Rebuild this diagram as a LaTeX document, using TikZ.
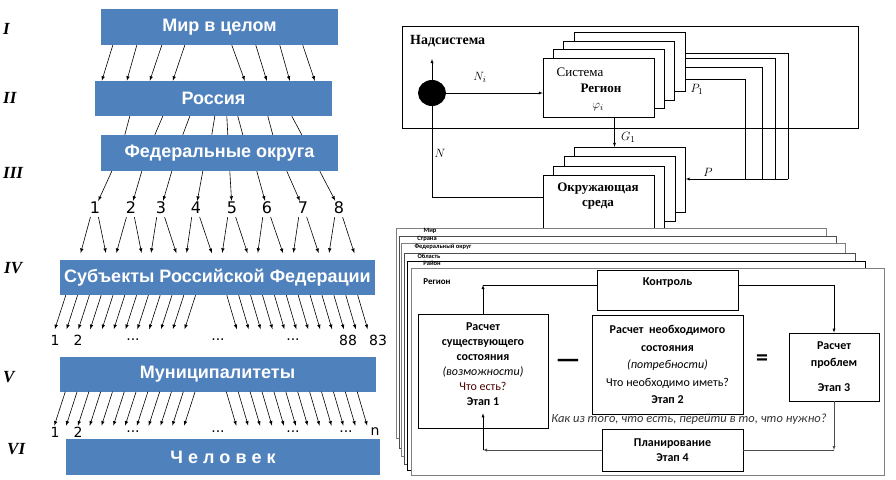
\documentclass[tikz,border=0pt]{standalone}
\usepackage{fontspec}
\usepackage{amsmath}
\usetikzlibrary{arrows,shapes.geometric}
\newfontfamily\arialf{Liberation Sans}
\newfontfamily\timesf{Liberation Serif}
\newfontfamily\calif{Carlito}
\newfontfamily\verdf{DejaVu Sans}
\definecolor{barblue}{HTML}{4F81BD}
\begin{document}
\begin{tikzpicture}[x=1pt, y=-1pt,
    bar/.style = {fill=barblue, text=white, inner sep=0, font=\arialf\bfseries\fontsize{18}{20}\selectfont},
    num/.style = {inner sep=1pt, font=\verdf\fontsize{16}{16}\selectfont},
    rownum/.style = {inner sep=1pt, font=\verdf\fontsize{14}{14}\selectfont},
    roman/.style = {anchor=west, inner sep=0, font=\timesf\bfseries\itshape\fontsize{17}{17}\selectfont},
    arr/.style = {-latex, line width=0.6pt},
    sbox/.style = {draw, fill=white, minimum width=111pt, minimum height=59pt, inner sep=0},
    ebox/.style = {draw, fill=white, minimum width=111pt, minimum height=65pt, inner sep=0},
    tlabel/.style = {inner sep=1pt, font=\timesf\fontsize{13}{13}\selectfont},
    lframe/.style = {draw=gray, fill=white, line width=0.9pt, inner sep=0},
    ftext/.style = {inner sep=0, font=\calif\bfseries\fontsize{6.5}{6.5}\selectfont},
    pbox/.style = {draw, line width=0.7pt, fill=white, inner sep=0, align=center, font=\calif\bfseries\fontsize{12}{15}\selectfont},
    ptext/.style = {inner sep=0, align=center, font=\calif\bfseries\fontsize{12}{15}\selectfont}]
    \useasboundingbox (0,0) rectangle (896,479);

    % left: levels
    \node[roman] (rI) at (3,29) {I};
    \node[roman] (rII) at (3,98) {II};
    \node[roman] (rIII) at (3,173) {III};
    \node[roman] (rIV) at (4,268) {IV};
    \node[roman] (rV) at (3,377) {V};
    \node[roman] (rVI) at (7,449) {VI};

    \node[bar, minimum width=237pt, minimum height=36pt] (mir) at (219.5,27) {Мир в целом};
    \node[bar, minimum width=237pt, minimum height=35pt] (ros) at (213.5,98.5) {Россия};
    \node[bar, minimum width=237pt, minimum height=36pt] (fo) at (219.5,153) {Федеральные округа};
    \node[bar, minimum width=315pt, minimum height=35pt] (subj) at (217.5,277.5) {Субъекты Российской Федерации};
    \node[bar, minimum width=316pt, minimum height=35pt] (mun) at (217.5,374) {Муниципалитеты};
    \node[bar, minimum width=314pt, minimum height=36pt] (chel) at (223,457) {Ч е л о в е к};

    \foreach \a/\b in {12/7,36/32,61/55,84/78,131/150,155/172,179/195,202/220}
        \draw[arr] ([xshift=\a pt]mir.south west) -- ([xshift=\b pt]ros.north west);
    \foreach \a/\b in {35/24,68/54,95/82,120/111,132/127,143/142,173/172,197/201}
        \draw[line width=0.6pt] ([xshift=\a pt]ros.south west) -- ([xshift=\b pt]fo.north west);

    \foreach \i/\x in {1/95,2/131,3/161,4/196,5/232,6/267,7/303,8/339}
        \node[num] (n\i) at (\x,208) {\i};
    \foreach \i/\a in {1/11,2/41,3/71,4/102,5/129,6/156,7/186,8/219}
        \draw[arr] ([xshift=\a pt]fo.south west) -- (n\i);
    \foreach \i [evaluate=\i as \l using 19+35.6*(\i-1), evaluate=\i as \r using 47.5+35.6*(\i-1)] in {1,...,8} {
        \draw[arr, shorten <=2pt, shorten >=7pt] ([xshift=-4pt]n\i.south) -- ([xshift=\l pt]subj.north west);
        \draw[arr, shorten <=2pt, shorten >=7pt] ([xshift=3pt]n\i.south) -- ([xshift=\r pt]subj.north west);
    }

    \foreach \k [evaluate=\k as \a using 6+11.8*\k, evaluate=\k as \b using 167+11.9*\k] in {0,...,11} {
        \draw[arr] ([xshift=\a pt]subj.south west) -- ++(-11,34);
        \draw[arr] ([xshift=\b pt]subj.south west) -- ++(10,34);
        \draw[arr] ([xshift=\a pt]mun.south west) -- ++(-11,34);
        \draw[arr] ([xshift=\b pt]mun.south west) -- ++(10,34);
    }

    \node[rownum] (s1) at (55,340) {1};
    \node[rownum] (s2) at (78,340) {2};
    \node[rownum] (s3) at (133,340) {...};
    \node[rownum] (s4) at (218,340) {...};
    \node[rownum] (s5) at (293,340) {...};
    \node[rownum] (s6) at (348,340) {88};
    \node[rownum] (s7) at (378,340) {83};
    \node[rownum] (m1) at (55,432) {1};
    \node[rownum] (m2) at (78,432) {2};
    \node[rownum] (m3) at (133,432) {...};
    \node[rownum] (m4) at (218,432) {...};
    \node[rownum] (m5) at (293,432) {...};
    \node[rownum] (m6) at (346,432) {...};
    \node[rownum] (m7) at (375,432) {n};

    % right top: supersystem
    \node[draw, line width=0.6pt, minimum width=456pt, minimum height=102pt, inner sep=0] (nads) at (630,77) {};
    \node[tlabel, anchor=west, font=\timesf\bfseries\fontsize{14}{14}\selectfont] (nadst) at (409,41) {Надсистема};
    \node[ellipse, fill=black, minimum width=28pt, minimum height=26pt, inner sep=0] (hub) at (432,93) {};
    \coordinate (up) at (432,59);
    \draw[-latex] (hub) -- (up);

    \foreach \k in {3,2,1}
        \node[sbox] (sys\k) at ({598.5+10.3*\k},{87.5-8.5*\k}) {};
    \node[sbox] (sys) at (598.5,87.5) {};
    \node[tlabel] (syst) at (580,72) {Система};
    \node[tlabel, font=\timesf\bfseries\fontsize{13}{13}\selectfont] (regt) at (601,88) {Регион};
    \node[tlabel] (phi) at (598,107) {$\varphi_i$};

    \foreach \k in {3,2,1}
        \node[ebox] (env\k) at ({598.5+10.5*\k},{207.5-9.3*\k}) {};
    \node[ebox] (env) at (598.5,207.5) {};
    \node[tlabel, align=center, font=\timesf\bfseries\fontsize{13}{15}\selectfont] (envt) at (598,196) {Окружающая\\среда};

    \draw[-latex] (hub) -- (hub -| sys.west);
    \node[tlabel] (ni) at (480,77) {$N_i$};

    \coordinate (g0) at ([xshift=16pt]sys.south);
    \draw[-latex] (g0) -- (g0 |- env3.north);
    \node[tlabel, anchor=west] (gi) at (620,137) {$G_1$};

    \coordinate (pbus) at (788,179);
    \foreach \a/\b in {9/0,4/-13,-5/-26,-17/-43}
        \draw ([yshift=\a pt]sys3.east) -| ([xshift=\b pt]pbus);
    \draw[-latex] (pbus) -- (pbus -| env3.east);
    \node[tlabel] (pt) at (708,172) {$P$};
    \node[tlabel] (p1) at (697,89) {$P_1$};

    \draw ([yshift=10pt]env.west) -| (hub.south);
    \node[tlabel] (nt) at (440,153) {$N$};

    % right bottom: levels of planning
    \node[lframe, minimum width=430pt, minimum height=210pt] (f1) at (611,333) {};
    \node[ftext] (f1t) at (430,231) {Мир};
    \node[lframe, draw=gray!60!black, minimum width=437pt, minimum height=212pt] (f2) at (617.5,342) {};
    \node[ftext] (f2t) at (427,238.5) {Страна};
    \node[lframe, minimum width=444pt, minimum height=213pt] (f3) at (623,349.5) {};
    \node[ftext] (f3t) at (443,247) {Федеральный округ};
    \node[lframe, draw=gray!60!black, minimum width=451pt, minimum height=211pt] (f4) at (629.5,358.5) {};
    \node[ftext] (f4t) at (429,256) {Область};
    \node[lframe, draw=black, line width=0.7pt, minimum width=458pt, minimum height=209pt] (f5) at (636,365.5) {};
    \node[ftext] (f5t) at (432,263.5) {Район};
    \node[lframe, minimum width=473pt, minimum height=207pt] (f6) at (647.5,371.5) {};
    \node[ftext, font=\calif\bfseries\fontsize{9}{9}\selectfont] (f6t) at (437,282) {Регион};

    \node[pbox, minimum width=141pt, minimum height=40pt] (kontr) at (667.5,290) {};
    \node[ptext] (kontrt) at (667.5,283) {Контроль};
    \node[pbox, minimum width=130pt, minimum height=114pt] (box1) at (483,371) {};
    \node[ptext] (box1t) at (483,364.5) {Расчет\\существующего\\состояния\\{\mdseries\itshape (возможности)}\\{\mdseries\color{black!70!red} Что есть?}\\Этап 1};
    \node[pbox, minimum width=151pt, minimum height=99pt, font=\calif\bfseries\fontsize{12}{17.5}\selectfont] (box2) at (667.5,364.5) {Расчет~ необходимого\\состояния\\{\mdseries\itshape (потребности)}\\{\mdseries Что необходимо иметь?}\\Этап 2};
    \node[pbox, minimum width=90pt, minimum height=68pt, font=\calif\bfseries\fontsize{12}{17}\selectfont] (box3) at (834,367) {Расчет\\проблем\\[8pt]Этап 3};
    \node[pbox, minimum width=141pt, minimum height=42pt] (box4) at (672.5,450) {Планирование\\Этап 4};

    \node[inner sep=0, font=\calif\bfseries\fontsize{28}{28}\selectfont] (minus) at (568,364) {—};
    \node[inner sep=0, font=\calif\bfseries\fontsize{24}{24}\selectfont] (equal) at (762,360) {=};
    \node[inner sep=0, font=\calif\itshape\fontsize{12.5}{12.5}\selectfont, text=black!80] (quest) at (689,419) {Как из того, что есть, перейти в то, что нужно?};

    \coordinate (k1) at ([yshift=5pt]kontr.west);
    \coordinate (k2) at ([yshift=5pt]kontr.east);
    \draw[-latex] (box1.north) -- (box1.north |- k1);
    \draw (k1) -- (box1.north |- k1);
    \draw[-latex] (k2) -| (box3.north);
    \coordinate (c3) at (box3.south |- box4.east);
    \draw[-latex, gray!60!black] (box3.south) -- (c3);
    \draw[gray!60!black] (box4.east) -- (c3);
    \coordinate (c4) at (box1.south |- box4.west);
    \draw[-latex, gray!60!black] (box4.west) -- (c4);
    \draw[-latex] (c4) -- ([yshift=15pt]box1.south);
\end{tikzpicture}
\end{document}
